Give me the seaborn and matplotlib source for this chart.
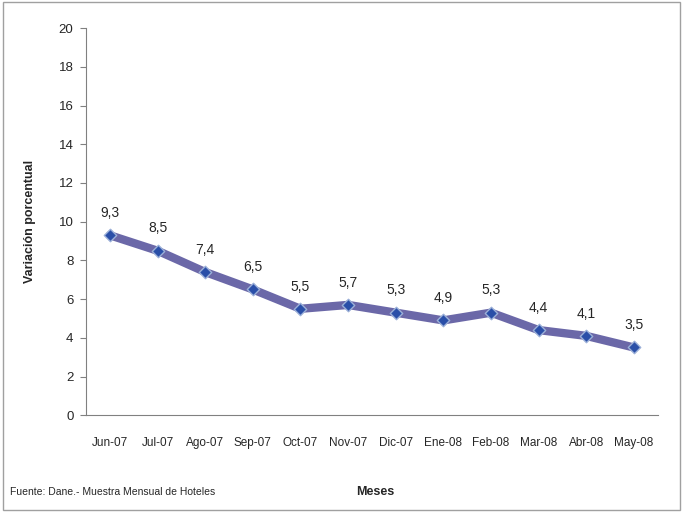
import pandas as pd
import matplotlib
matplotlib.use("Agg")
import matplotlib.pyplot as plt
import seaborn as sns
from matplotlib.patches import Rectangle

meses = ['Jun-07', 'Jul-07', 'Ago-07', 'Sep-07', 'Oct-07', 'Nov-07',
         'Dic-07', 'Ene-08', 'Feb-08', 'Mar-08', 'Abr-08', 'May-08']
variacion = [9.3, 8.5, 7.4, 6.5, 5.5, 5.7, 5.3, 4.9, 5.3, 4.4, 4.1, 3.5]
y_ticks = [0, 2, 4, 6, 8, 10, 12, 14, 16, 18, 20]

df = pd.DataFrame({'mes': meses, 'var': variacion})
df['pos'] = range(len(df))

sns.set_style("white")
plt.rcParams['font.family'] = ['Liberation Sans', 'DejaVu Sans']

fig = plt.figure(figsize=(6.83, 5.12), dpi=100)
ax = fig.add_axes([0.126, 0.189, 0.837, 0.756])

# linea gruesa
sns.lineplot(data=df, x='pos', y='var', ax=ax, color='#6b68a8', linewidth=6,
             solid_joinstyle='round', solid_capstyle='round', zorder=2)
# marcadores rombo
sns.scatterplot(data=df, x='pos', y='var', ax=ax, marker='D', s=40,
                color='#2a4fa8', edgecolor='#9bb0d8', linewidth=1, zorder=3)

for x, v in zip(df['pos'], df['var']):
    ax.annotate(f'{v:.1f}'.replace('.', ','), (x, v), xytext=(0, 11),
                textcoords='offset points', ha='center', va='bottom', fontsize=10)

ax.set_xlim(-0.5, len(meses) - 0.5)
ax.set_ylim(0, 20)
ax.set_yticks(y_ticks)
ax.set_xticks(range(len(meses)))
ax.set_xticklabels(meses)
ax.set_xticks([i - 0.5 for i in range(len(meses) + 1)], minor=True)
ax.tick_params(axis='x', which='major', length=0, labelsize=8.5, pad=16)
ax.tick_params(axis='x', which='minor', length=4, color='#808080', width=0.8)
ax.tick_params(axis='y', length=4, color='#808080', width=0.8, labelsize=9.5,
               direction='out', left=True, pad=5)

for s in ['top', 'right']:
    ax.spines[s].set_visible(False)
for s in ['left', 'bottom']:
    ax.spines[s].set_color('#808080')
    ax.spines[s].set_linewidth(0.8)

ax.set_xlabel('')
ax.set_ylabel('Variación porcentual', fontsize=9, fontweight='bold', labelpad=16)

fig.text(375 / 683, 1 - 492 / 512, 'Meses', fontsize=9, fontweight='bold',
         ha='center', va='center')
fig.text(10 / 683, 1 - 492 / 512, 'Fuente: Dane.- Muestra Mensual de Hoteles',
         fontsize=7.5, ha='left', va='center')

# borde exterior
fig.patches.append(Rectangle((0.004, 0.004), 0.992, 0.992, transform=fig.transFigure,
                             fill=False, edgecolor='#a0a0a0', linewidth=1))

fig.savefig('out.png', dpi=100)
